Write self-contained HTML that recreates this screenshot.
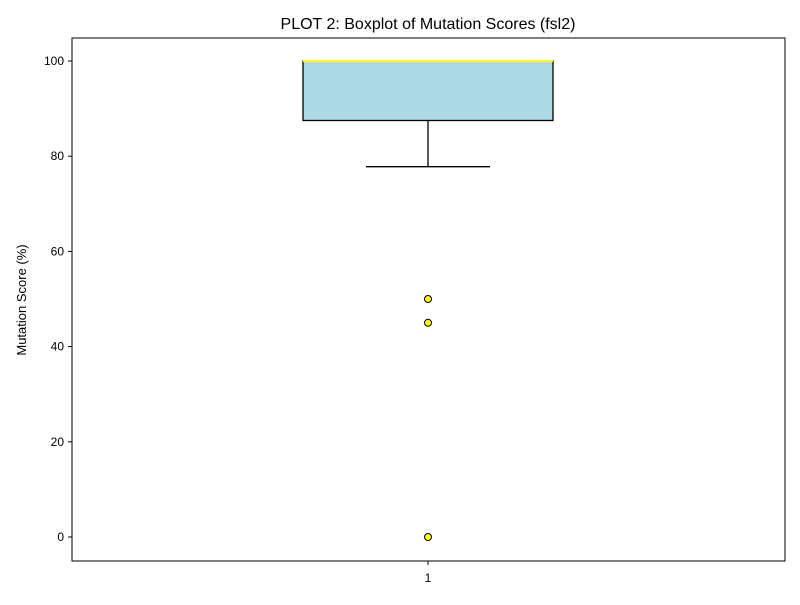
<!DOCTYPE html>
<html><head><meta charset="utf-8"><style>
body{margin:0;background:#fff;font-family:"Liberation Sans","DejaVu Sans",sans-serif}
</style></head><body>
<svg width="800" height="600" xmlns="http://www.w3.org/2000/svg">
<rect width="800" height="600" fill="#fff"/>
<text x="428" y="29" text-anchor="middle" font-size="16">PLOT 2: Boxplot of Mutation Scores (fsl2)</text>
<g id="yticks"></g>
<text transform="translate(26,300) rotate(-90)" text-anchor="middle" font-size="13">Mutation Score (%)</text>
<g id="plot"></g>
<rect x="72" y="38" width="713" height="523" fill="none" stroke="#000" stroke-width="1"/>
<line x1="428" y1="561" x2="428" y2="565" stroke="#000"/>
<text x="428" y="582" text-anchor="middle" font-size="12">1</text>
</svg>
<script>
const yTicks=[0,20,40,60,80,100];
const stats=[77.8,87.5,100,100,100]; // whiskerLow, q1, median, q3, whiskerHigh
const outliers=[50,45,0];
const NS="http://www.w3.org/2000/svg";
const y=v=>537-(v)*4.76;
const cx=428;
function mk(t,a,p){const e=document.createElementNS(NS,t);for(const k in a)e.setAttribute(k,a[k]);p.appendChild(e);return e;}
const yt=document.getElementById('yticks');
yTicks.forEach(v=>{
 const l=mk('line',{x1:68,x2:72,y1:y(v),y2:y(v),stroke:'#000'},yt);
 
 
 const t=mk('text',{x:64,y:y(v)+4,'text-anchor':'end','font-size':12},yt);
 t.textContent=v;
 
 
});
const p=document.getElementById('plot');
const w=mk('line',{x1:cx,x2:cx,y1:y(stats[1]),y2:y(stats[0]),stroke:'#000','stroke-width':1.3},p);


const c=mk('line',{x1:cx-62,x2:cx+62,y1:y(stats[0]),y2:y(stats[0]),stroke:'#000','stroke-width':1.3},p);


const b=mk('rect',{x:cx-125,width:250,y:y(stats[3]),height:y(stats[1])-y(stats[3]),fill:'#add8e6',stroke:'#000','stroke-width':1.3},p);


const c2=mk('line',{x1:cx-62,x2:cx+62,y1:y(stats[4]),y2:y(stats[4]),stroke:'#000','stroke-width':1.3},p);


const m=mk('line',{x1:cx-125,x2:cx+125,y1:y(stats[2]),y2:y(stats[2]),stroke:'#ffff00','stroke-width':2},p);


outliers.forEach(v=>{
 const o=mk('circle',{cx:cx,cy:y(v),r:3.5,fill:'#ffff00',stroke:'#000','stroke-width':1},p);
 
 
});
</script>
</body></html>
